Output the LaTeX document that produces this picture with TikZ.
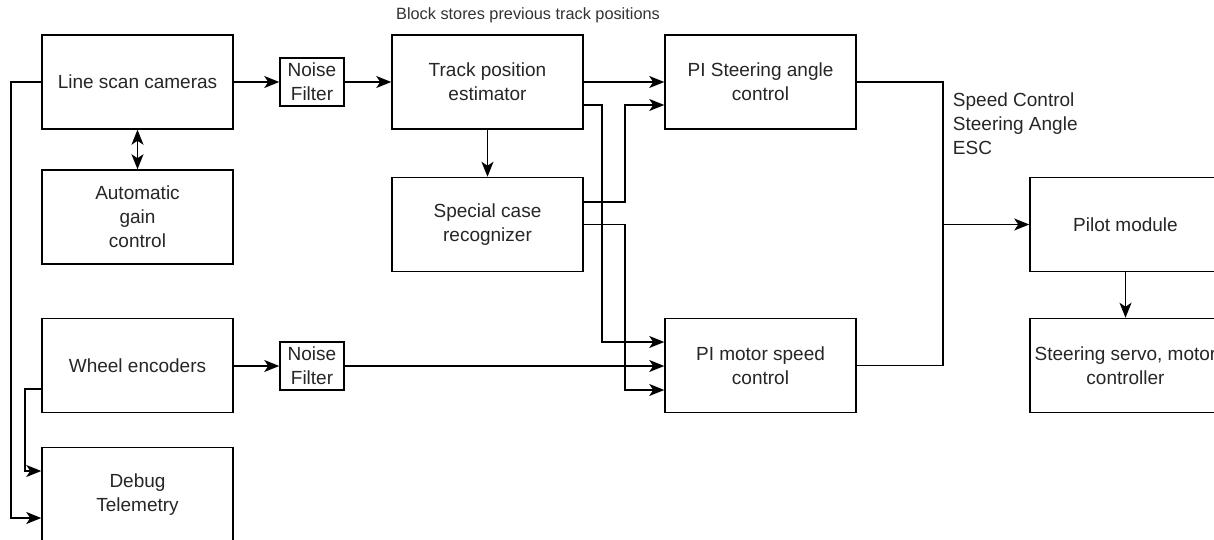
\documentclass[tikz,border=0pt]{standalone}
\usepackage{fontspec}
\setmainfont{Liberation Sans}
\usepackage{tikz}
\usetikzlibrary{arrows.meta}
\usetikzlibrary{positioning}
\tikzset{
  >={Stealth[length=15pt,width=12pt,inset=4pt]},
  block/.style = {draw, rectangle, line width=1.5pt, minimum width=191pt, minimum height=94pt,
    inner sep=0pt, align=center, font=\fontsize{19}{24}\selectfont},
  filter/.style = {draw, rectangle, line width=1.5pt, minimum width=64pt, minimum height=48pt,
    inner sep=0pt, align=center, font=\fontsize{19}{24}\selectfont},
  arr/.style = {line width=1.6pt, ->},
  wire/.style = {line width=1.6pt}
}

\begin{document}
\begin{tikzpicture}[x=1pt, y=-1pt, text=black!85]
\clip (0,0) rectangle (1214,540);
\fill[white] (0,0) rectangle (1214,540);

\node[block] (cams) at (137.5,82) {Line scan cameras};
\node[block] (agc) at (137.5,217) {Automatic\\gain\\control};
\node[block] (wheel) at (137.5,365.5) {Wheel encoders};
\node[block] (debug) at (137.5,494.5) {Debug\\Telemetry};
\node[filter] (nf1) at (312,82) {Noise\\Filter};
\node[filter] (nf2) at (312,366) {Noise\\Filter};
\node[block] (track) at (487.5,82) {Track position\\estimator};
\node[block] (special) at (487.5,224.5) {Special case\\recognizer};
\node[block] (pisteer) at (760.5,82) {PI Steering angle\\control};
\node[block] (pimotor) at (760.5,365.5) {PI motor speed\\control};
\node[block] (pilot) at (1125.5,224.5) {Pilot module};
\node[block] (servo) at (1125.5,365.5) {Steering servo, motor\\controller};

\node[font=\fontsize{16.3}{19}\selectfont, text=black!80] (note) at (528,15) {Block stores previous track positions};

\draw[arr] (cams) -- (nf1);
\draw[arr] (nf1) -- (track);
\draw[arr] (wheel.east |- nf2.west) -- (nf2);
\draw[arr] (nf2.east) -- (pimotor.west |- nf2.east);
\draw[arr] (track) -- (special);
\draw[wire, <->] (cams) -- (agc);
\draw[arr] (track.east) -- (pisteer.west);
\draw[arr] ([yshift=-23pt]track.east) -- ++(18,0) |- ([yshift=23.5pt]pimotor.west);
\draw[arr] ([yshift=22.5pt]special.east) -- ++(41,0) |- ([yshift=-23pt]pisteer.west);
\draw[arr] (special.east) -- ++(41,0) |- ([yshift=-24.5pt]pimotor.west);

\draw[arr] (cams.west) -- ++(-30,0) |- ([yshift=-23.5pt]debug.west);
\draw[arr] ([yshift=-23.5pt]wheel.west) -- ++(-16,0) |- ([yshift=23.5pt]debug.west);

\draw[wire] (pisteer.east) -- ++(86,0) coordinate (bus) |- (pimotor.east);
\draw[arr] (bus |- pilot.west) -- (pilot.west);
\draw[arr] (pilot) -- (servo);

\node[anchor=north west, inner sep=0pt, align=left, font=\fontsize{19}{24}\selectfont] (signals) at ([xshift=10pt,yshift=-11pt]bus) {Speed Control\\Steering Angle\\ESC};
\end{tikzpicture}
\end{document}
